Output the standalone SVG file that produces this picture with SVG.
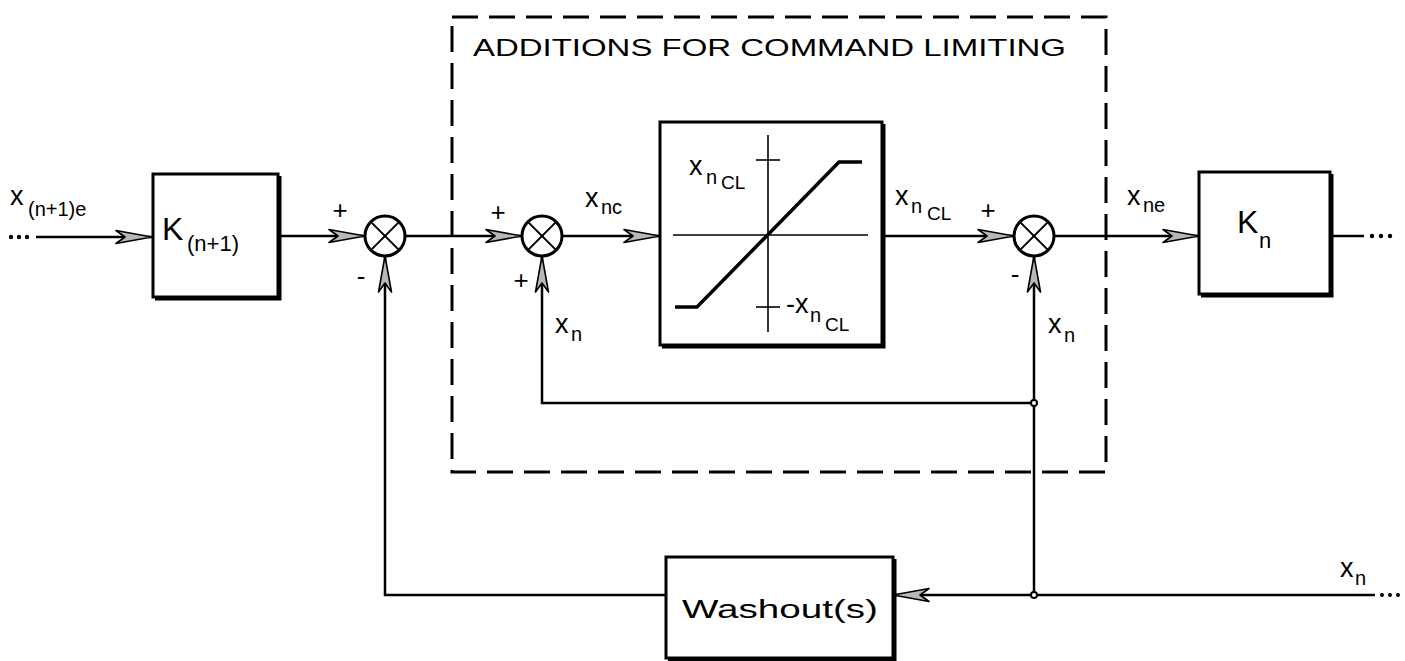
<svg xmlns="http://www.w3.org/2000/svg" width="1405" height="661" viewBox="0 0 1405 661">
<style>
.ln{stroke:#000;stroke-width:2.5;fill:none}
.box{stroke:#000;stroke-width:3;fill:#fff}
.sh{stroke:#000;stroke-width:3;fill:none}
.sum{stroke:#000;stroke-width:3;fill:#fff}
.x{stroke:#000;stroke-width:1.8}
.dash{stroke:#000;stroke-width:3;fill:none;stroke-dasharray:26 11}
.thin{stroke:#000;stroke-width:1.6;fill:none}
.crv{stroke:#000;stroke-width:3.5;fill:none}
text{font-family:"Liberation Sans",Arial,sans-serif;fill:#000}
.lb{font-size:27px}
.sb{font-size:20px}
.ss{font-size:19px}
.pm{font-size:26px;text-anchor:middle}
.dot{fill:#000}
.jn{fill:#fff;stroke:#000;stroke-width:2}
</style>
<defs>
<marker id="arr" markerUnits="userSpaceOnUse" markerWidth="44" markerHeight="18" viewBox="-40 -9 44 18" refX="0" refY="0" orient="auto" overflow="visible">
<path d="M0,0 L-36,-6.5 L-27,0 L-36,6.5 Z" fill="#b8b8b8" stroke="#000" stroke-width="1.6" stroke-linejoin="round"/>
</marker>
</defs>

<g id="dashed-region">
<rect class="dash" x="452" y="17" width="654" height="455"/>
<text x="473" y="56" font-size="24" textLength="593" lengthAdjust="spacingAndGlyphs">ADDITIONS FOR COMMAND LIMITING</text>
</g>

<g id="connectors">
<g class="dot"><circle cx="11" cy="237" r="2.2"/><circle cx="19" cy="237" r="2.2"/><circle cx="27" cy="237" r="2.2"/></g>
<line class="ln" x1="36" y1="237" x2="152" y2="237" marker-end="url(#arr)"/>
<line class="ln" x1="280" y1="236" x2="365" y2="236" marker-end="url(#arr)"/>
<line class="ln" x1="405" y1="236" x2="522" y2="236" marker-end="url(#arr)"/>
<line class="ln" x1="562" y1="236" x2="660" y2="236" marker-end="url(#arr)"/>
<line class="ln" x1="884" y1="236" x2="1014" y2="236" marker-end="url(#arr)"/>
<line class="ln" x1="1054" y1="236" x2="1199" y2="236" marker-end="url(#arr)"/>
<line class="ln" x1="1332" y1="236" x2="1364" y2="236"/>
<g class="dot"><circle cx="1372" cy="236" r="2.2"/><circle cx="1381" cy="236" r="2.2"/><circle cx="1390" cy="236" r="2.2"/></g>
<polyline class="ln" points="1034,595 1034,256" marker-end="url(#arr)"/>
<polyline class="ln" points="1034,403 542,403 542,256" marker-end="url(#arr)"/>
<line class="ln" x1="1375" y1="595" x2="893" y2="595" marker-end="url(#arr)"/>
<g class="dot"><circle cx="1382" cy="595" r="2"/><circle cx="1390" cy="595" r="2"/><circle cx="1398" cy="595" r="2"/></g>
<polyline class="ln" points="666,595 385,595 385,256" marker-end="url(#arr)"/>
<circle class="jn" cx="1034" cy="403" r="3"/>
<circle class="jn" cx="1034" cy="595" r="3"/>
</g>

<g id="input-label">
<text class="lb" x="10" y="205">x</text><text class="sb" x="28" y="216">(n+1)e</text>
</g>

<g id="K-n1">
<rect class="box" x="153" y="174" width="125" height="123"/>
<polyline class="sh" points="280,176 280,299 155,299"/>
<text x="162" y="240" font-size="32">K</text><text x="187" y="251" font-size="22">(n+1)</text>
</g>

<g id="sum1">
<circle class="sum" cx="385" cy="236" r="20"/>
<line class="x" x1="371" y1="222" x2="399" y2="250"/><line class="x" x1="399" y1="222" x2="371" y2="250"/>
<text class="pm" x="340" y="219">+</text>
<text class="pm" x="361" y="285">-</text>
</g>

<g id="sum2">
<circle class="sum" cx="542" cy="236" r="20"/>
<line class="x" x1="528" y1="222" x2="556" y2="250"/><line class="x" x1="556" y1="222" x2="528" y2="250"/>
<text class="pm" x="498" y="221">+</text>
<text class="pm" x="521" y="289">+</text>
<text class="lb" x="585" y="207">x</text><text class="sb" x="601" y="214">nc</text>
<text class="lb" x="555" y="333">x</text><text class="sb" x="571" y="341">n</text>
</g>

<g id="limiter">
<rect class="box" x="660" y="122" width="222" height="223"/>
<polyline class="sh" points="884,124 884,347 662,347"/>
<line class="thin" x1="673" y1="235" x2="868" y2="235"/>
<line class="thin" x1="768" y1="135" x2="768" y2="332"/>
<line class="thin" x1="756" y1="160" x2="780" y2="160"/>
<line class="thin" x1="756" y1="307" x2="780" y2="307"/>
<polyline class="crv" points="675,307 697,307 839,162 862,162"/>
<text class="lb" x="689" y="175">x</text><text class="sb" x="706" y="184">n</text><text class="ss" x="721" y="189">CL</text>
<text class="lb" x="786" y="313">-x</text><text class="sb" x="810" y="322">n</text><text class="ss" x="825" y="331">CL</text>
</g>

<g id="sum3">
<circle class="sum" cx="1034" cy="236" r="20"/>
<line class="x" x1="1020" y1="222" x2="1048" y2="250"/><line class="x" x1="1048" y1="222" x2="1020" y2="250"/>
<text class="pm" x="988" y="219">+</text>
<text class="pm" x="1015" y="283">-</text>
<text class="lb" x="895" y="205">x</text><text class="sb" x="911" y="213">n</text><text class="ss" x="927" y="220">CL</text>
<text class="lb" x="1048" y="333">x</text><text class="sb" x="1064" y="342">n</text>
<text class="lb" x="1127" y="205">x</text><text class="sb" x="1143" y="212">ne</text>
</g>

<g id="K-n">
<rect class="box" x="1199" y="172" width="131" height="122"/>
<polyline class="sh" points="1332,174 1332,296 1201,296"/>
<text x="1237" y="233" font-size="32">K</text><text x="1259" y="248" font-size="22">n</text>
</g>

<g id="washout">
<rect class="box" x="666" y="557" width="227" height="101"/>
<polyline class="sh" points="895,559 895,660 668,660"/>
<text x="682" y="618" font-size="26" textLength="196" lengthAdjust="spacingAndGlyphs">Washout(s)</text>
<text class="lb" x="1340" y="577">x</text><text class="sb" x="1355" y="585">n</text>
</g>
</svg>
